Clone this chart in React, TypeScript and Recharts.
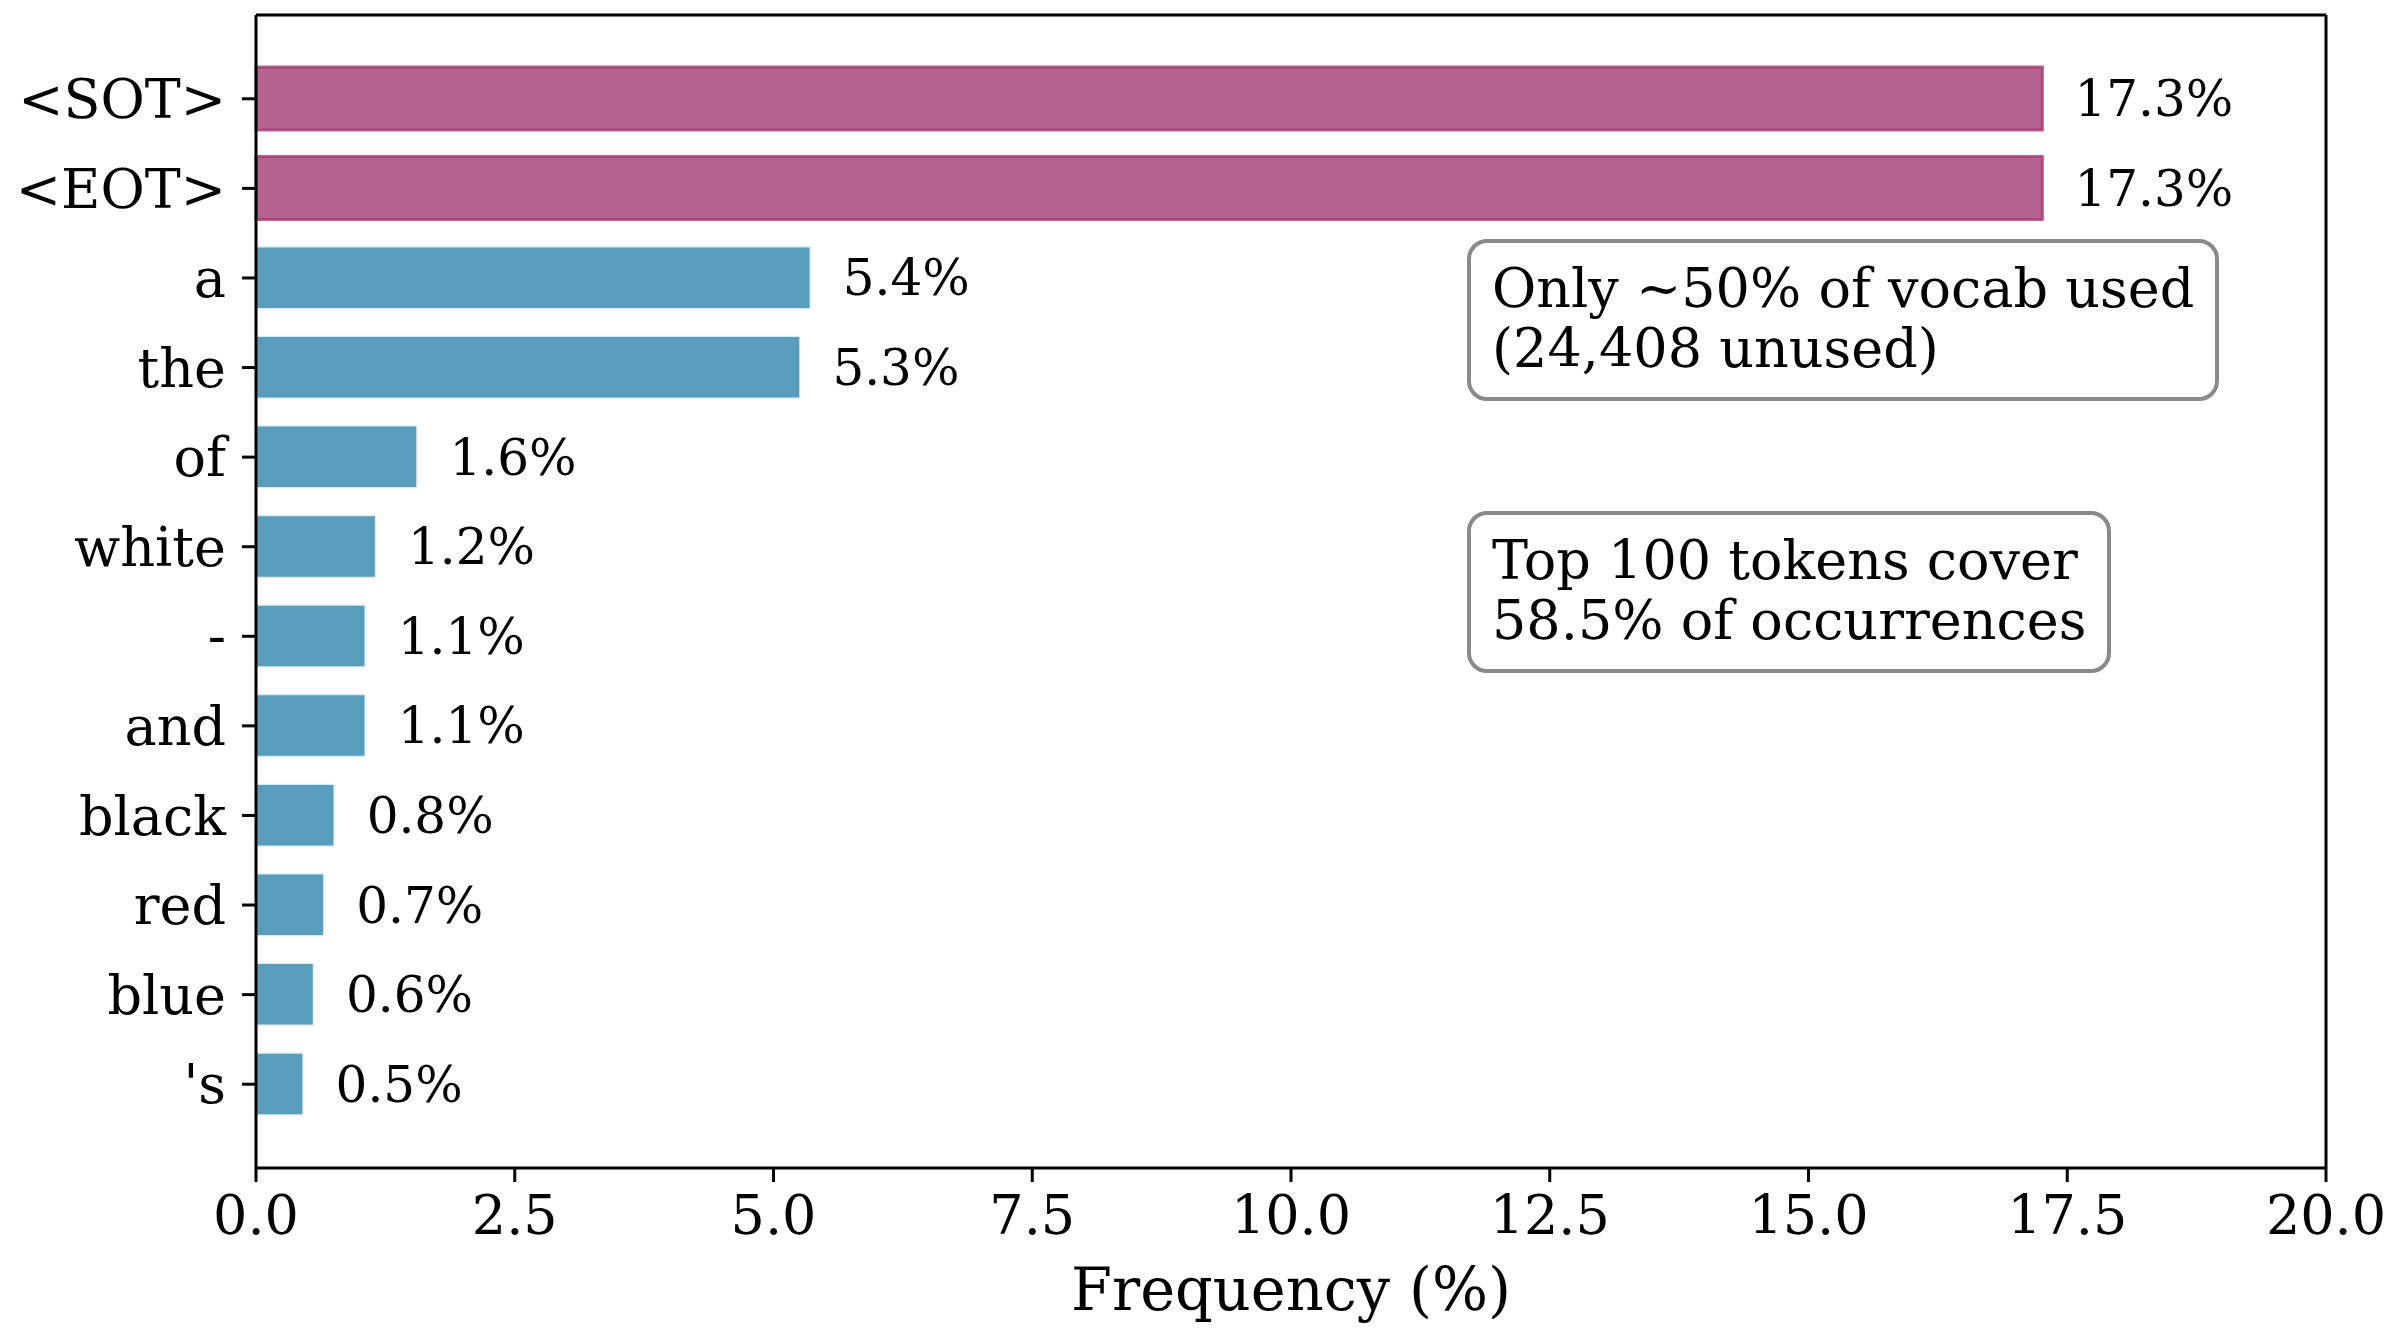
import React from "react"
import {
  BarChart,
  Bar,
  XAxis,
  YAxis,
  Cell,
  LabelList,
} from "recharts"

// token frequency, top 12 tokens
const tokens = ["<SOT>", "<EOT>", "a", "the", "of", "white", "-", "and", "black", "red", "blue", "'s"]
const frequency = [17.26, 17.26, 5.36, 5.26, 1.56, 1.16, 1.06, 1.06, 0.76, 0.66, 0.56, 0.46]
const specialTokens = ["<SOT>", "<EOT>"]
const xTicks = [0, 2.5, 5, 7.5, 10, 12.5, 15, 17.5, 20]
const notes = [
  "Only ~50% of vocab used\n(24,408 unused)",
  "Top 100 tokens cover\n58.5% of occurrences",
]

const data = tokens.map((token, i) => ({ token, freq: frequency[i] }))

const FONT = "'DejaVu Serif', serif"
const W = 2388
const H = 1338

function NoteBox({ text, left, top }: { text: string; left: number; top: number }) {
  return (
    <div
      style={{
        position: "absolute",
        left,
        top,
        border: "4.5px solid #8a8a8a",
        borderRadius: 20,
        background: "#fff",
        padding: "16px 21px 18px 21px",
        fontFamily: FONT,
        fontSize: 54,
        lineHeight: "60px",
        whiteSpace: "pre",
        color: "#000",
      }}
    >
      {text}
    </div>
  )
}

export default function App() {
  return (
    <div style={{ position: "absolute", left: 0, top: 0, width: W, height: H, background: "#fff" }}>
      <BarChart
        width={W}
        height={H}
        data={data}
        layout="vertical"
        margin={{ top: 14, right: 61, left: 16, bottom: 0 }}
      >
        <XAxis
          type="number"
          domain={[0, 20]}
          ticks={xTicks}
          tickFormatter={(v) => v.toFixed(1)}
          height={170}
          stroke="#000"
          strokeWidth={3}
          tickSize={14}
          tickMargin={14}
          tick={{ fill: "#000", fontSize: 54, fontFamily: FONT }}
          interval={0}
          label={{
            value: "Frequency (%)",
            position: "insideBottom",
            offset: 28,
            fill: "#000",
            fontSize: 59,
            fontFamily: FONT,
          }}
        />
        <XAxis
          xAxisId="top"
          type="number"
          domain={[0, 20]}
          orientation="top"
          height={1}
          tick={false}
          tickLine={false}
          stroke="#000"
          strokeWidth={3}
        />
        <YAxis
          type="category"
          dataKey="token"
          width={240}
          padding={{ top: 39, bottom: 39 }}
          stroke="#000"
          strokeWidth={3}
          tickSize={14}
          tickMargin={16}
          tick={{ fill: "#000", fontSize: 54, fontFamily: FONT }}
          interval={0}
        />
        <YAxis
          yAxisId="right"
          type="category"
          dataKey="token"
          orientation="right"
          width={1}
          padding={{ top: 39, bottom: 39 }}
          tick={false}
          tickLine={false}
          stroke="#000"
          strokeWidth={3}
        />
        <Bar dataKey="freq" barSize={63} isAnimationActive={false}>
          {data.map((d) => {
            const special = specialTokens.includes(d.token)
            return (
              <Cell
                key={d.token}
                fill={special ? "#A23B72" : "#2E86AB"}
                fillOpacity={0.8}
                stroke={special ? "#A23B72" : "#ffffff"}
                strokeOpacity={0.8}
                strokeWidth={special ? 3 : 2.5}
              />
            )
          })}
          <LabelList
            dataKey="freq"
            position="right"
            offset={32}
            formatter={(v: number) => `${v.toFixed(1)}%`}
            style={{ fill: "#000", fontSize: 50, fontFamily: FONT }}
          />
        </Bar>
      </BarChart>
      <NoteBox text={notes[0]} left={1467} top={239} />
      <NoteBox text={notes[1]} left={1467} top={511} />
    </div>
  )
}
